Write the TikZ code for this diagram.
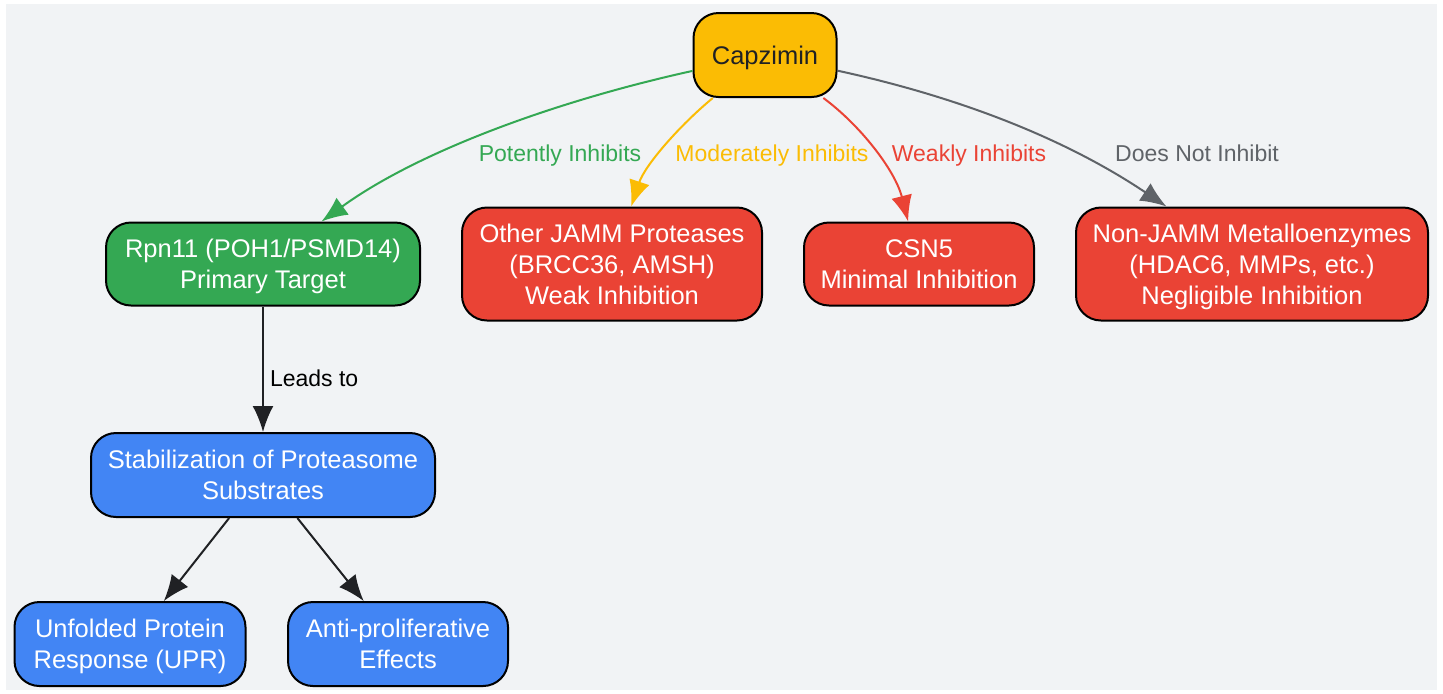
\documentclass[tikz,border=0pt]{standalone}
\usepackage{fontspec}
\setmainfont{Liberation Sans}
\usetikzlibrary{arrows.meta}
\definecolor{bgcol}{HTML}{F1F3F5}
\definecolor{gGreen}{HTML}{34A853}
\definecolor{gYellow}{HTML}{FBBC04}
\definecolor{gRed}{HTML}{EA4335}
\definecolor{gBlue}{HTML}{4285F4}
\definecolor{gGray}{HTML}{5F6368}
\definecolor{gDark}{HTML}{202124}
\begin{document}
\begin{tikzpicture}[x=0.5pt,y=-0.5pt,
    box/.style={draw=black, line width=1pt, rounded corners=12.5pt, align=center,
      text=white, inner sep=0pt, text depth=0pt, font=\fontsize{12.75}{15.6}\selectfont},
    lbl/.style={inner sep=1pt, text depth=0pt, font=\fontsize{11.5}{14}\selectfont},
    link/.style={line width=1pt, -{Latex[length=13pt,width=10.5pt]}}]
    \useasboundingbox (0,0) rectangle (1443,693);
    \fill[bgcol] (6,4) rectangle (1437,690);
    % nodes
    \node[box, fill=gYellow, text=gDark, minimum width=71.5pt, minimum height=42pt] (cap) at (765,55) {Capzimin};
    \node[box, fill=gGreen, minimum width=157pt, minimum height=41.5pt] (rpn) at (263,264) {Rpn11 (POH1/PSMD14)\\Primary Target};
    \node[box, fill=gRed, minimum width=150pt, minimum height=56.5pt] (jamm) at (612,264) {Other JAMM Proteases\\(BRCC36, AMSH)\\Weak Inhibition};
    \node[box, fill=gRed, minimum width=115pt, minimum height=41.5pt] (csn) at (919,264) {CSN5\\Minimal Inhibition};
    \node[box, fill=gRed, minimum width=176pt, minimum height=56.5pt] (metal) at (1252,264) {Non-JAMM Metalloenzymes\\(HDAC6, MMPs, etc.)\\Negligible Inhibition};
    \node[box, fill=gBlue, minimum width=172pt, minimum height=42pt] (stab) at (263,475) {Stabilization of Proteasome\\Substrates};
    \node[box, fill=gBlue, minimum width=115.5pt, minimum height=42pt] (upr) at (130,644) {Unfolded Protein\\Response (UPR)};
    \node[box, fill=gBlue, minimum width=110pt, minimum height=42pt] (anti) at (398,644) {Anti-proliferative\\Effects};
    % connectors
    \draw[link, gGreen] (cap) .. controls (560,100) and (420,150) .. (rpn);
    \draw[link, gYellow] (cap) .. controls (680,125) and (645,165) .. (jamm);
    \draw[link, gRed] (cap) .. controls (860,125) and (895,170) .. (csn);
    \draw[link, gGray] (cap) .. controls (950,95) and (1060,135) .. (metal);
    \draw[link, gDark] (rpn) -- node[lbl, right=2pt, pos=0.57, text=black] (lead) {Leads to} (stab);
    \draw[link, gDark] (stab) -- (upr);
    \draw[link, gDark] (stab) -- (anti);
    % labels
    \node[lbl, text=gGreen] (lpot) at (560,153) {Potently Inhibits};
    \node[lbl, text=gYellow] (lmod) at (772,153) {Moderately Inhibits};
    \node[lbl, text=gRed] (lweak) at (969,153) {Weakly Inhibits};
    \node[lbl, text=gGray] (lnot) at (1197,153) {Does Not Inhibit};
\end{tikzpicture}
\end{document}
